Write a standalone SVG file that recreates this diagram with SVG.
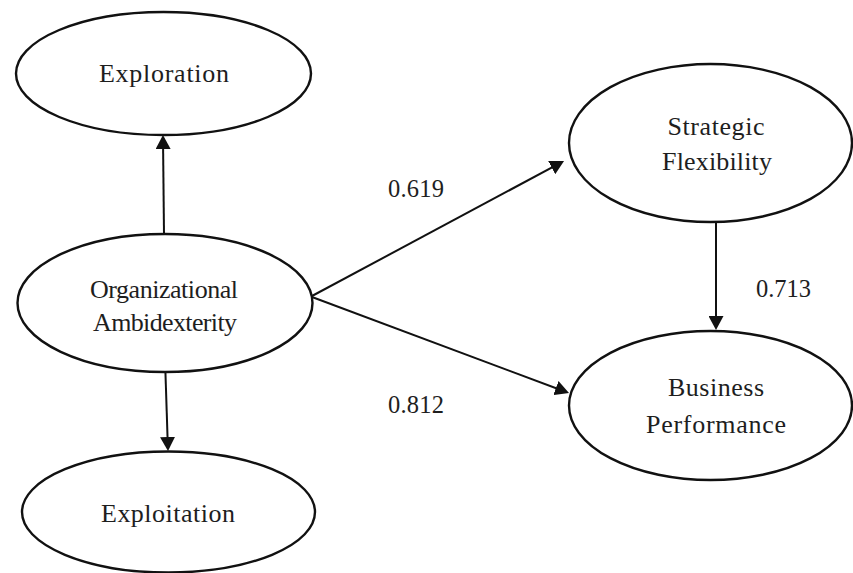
<svg xmlns="http://www.w3.org/2000/svg" width="853" height="573" viewBox="0 0 853 573">
<style>
.node ellipse{fill:#fff;stroke:#111;stroke-width:2.4}
.node text{font-family:"Liberation Serif","Times New Roman",serif;font-size:26px;fill:#1e1e1e;text-anchor:middle}
.lbl{font-family:"Liberation Serif","Times New Roman",serif;font-size:24.5px;fill:#1e1e1e}
.edges line{stroke:#111;stroke-width:2;fill:none;marker-end:url(#arr)}
</style>
<defs>
<marker id="arr" markerUnits="userSpaceOnUse" markerWidth="14" markerHeight="15" viewBox="0 0 14 15" refX="11" refY="7.5" orient="auto">
<path d="M0,0 L14,7.5 L0,15 z" fill="#111"/>
</marker>
</defs>
<rect width="853" height="573" fill="#fff"/>
<g class="edges">
<line x1="164" y1="234" x2="163" y2="138"/>
<line x1="165" y1="359" x2="167.9" y2="448"/>
<line x1="312" y1="296" x2="561.4" y2="162.4"/>
<line x1="312" y1="297" x2="566.2" y2="392"/>
<line x1="716" y1="222" x2="716" y2="327"/>
</g>
<g id="exploration" class="node">
<ellipse cx="163.5" cy="73.5" rx="147.5" ry="61.5"/>
<text x="164" y="82" textLength="130" lengthAdjust="spacing">Exploration</text>
</g>
<g id="org-ambidexterity" class="node">
<ellipse cx="165" cy="303" rx="147.5" ry="69"/>
<text x="164" y="298" textLength="148" lengthAdjust="spacing">Organizational</text>
<text x="165" y="331" textLength="144" lengthAdjust="spacing">Ambidexterity</text>
</g>
<g id="exploitation" class="node">
<ellipse cx="168.5" cy="512" rx="146.5" ry="60.5"/>
<text x="168" y="522" textLength="134" lengthAdjust="spacing">Exploitation</text>
</g>
<g id="strategic-flexibility" class="node">
<ellipse cx="710.5" cy="143" rx="141.5" ry="79"/>
<text x="716" y="135" textLength="97" lengthAdjust="spacing">Strategic</text>
<text x="717" y="170" textLength="110" lengthAdjust="spacing">Flexibility</text>
</g>
<g id="business-performance" class="node">
<ellipse cx="710.5" cy="405.5" rx="141.5" ry="74.5"/>
<text x="716" y="396" textLength="96" lengthAdjust="spacing">Business</text>
<text x="716" y="433" textLength="140" lengthAdjust="spacing">Performance</text>
</g>
<g id="labels">
<text class="lbl" x="388" y="197" textLength="56" lengthAdjust="spacing">0.619</text>
<text class="lbl" x="388" y="413" textLength="56" lengthAdjust="spacing">0.812</text>
<text class="lbl" x="756" y="297" textLength="55" lengthAdjust="spacing">0.713</text>
</g>
</svg>
